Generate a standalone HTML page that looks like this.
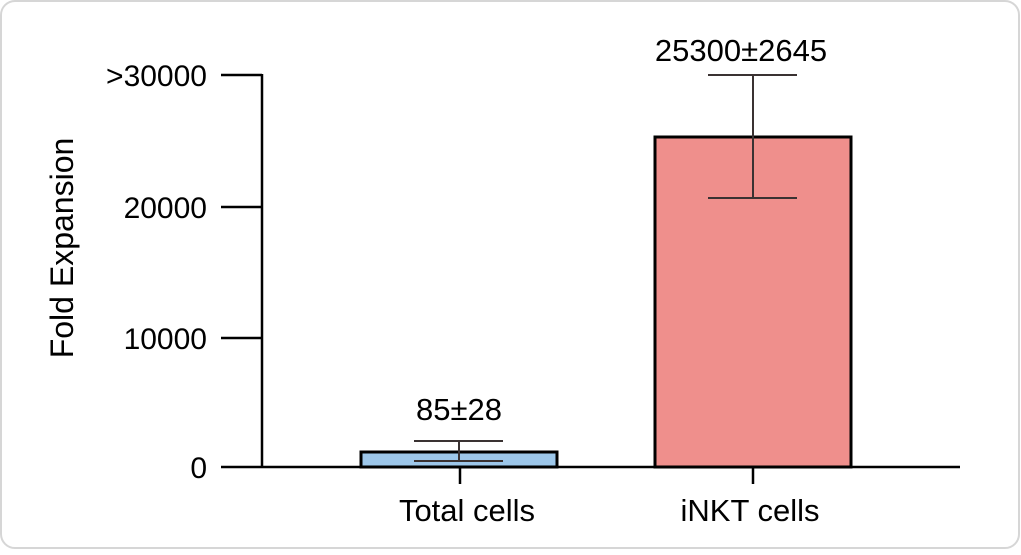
<!DOCTYPE html>
<html><head><style>body{margin:0;background:#fff}</style></head><body>
<svg width="1021" height="550" xmlns="http://www.w3.org/2000/svg" font-family="Liberation Sans, sans-serif">
<rect x="1" y="1" width="1018" height="547" rx="14" fill="#fff" stroke="#d6d6d6" stroke-width="2"/>
<g stroke="#000" stroke-width="2.5">
<line x1="262" y1="74" x2="262" y2="468"/>
<line x1="221" y1="75" x2="262" y2="75"/>
<line x1="221" y1="207" x2="262" y2="207"/>
<line x1="221" y1="338" x2="262" y2="338"/>
<line x1="221" y1="467" x2="960" y2="467"/>
<line x1="460" y1="467" x2="460" y2="484"/>
<line x1="753" y1="467" x2="753" y2="484"/>
</g>
<rect x="361" y="452" width="196" height="15" fill="#9dc7ea" stroke="#000" stroke-width="3"/>
<rect x="655" y="137" width="196" height="330" fill="#ef8f8c" stroke="#000" stroke-width="3"/>
<g stroke="#3a3232" stroke-width="2">
<line x1="459" y1="441" x2="459" y2="461"/><line x1="414" y1="441" x2="503" y2="441"/><line x1="414" y1="461" x2="503" y2="461"/>
<line x1="753" y1="75" x2="753" y2="198"/><line x1="708" y1="75" x2="797" y2="75"/><line x1="708" y1="198" x2="797" y2="198"/>
</g>
<g font-size="30" fill="#000">
<text x="207" y="86" text-anchor="end">&gt;30000</text>
<text x="207" y="218" text-anchor="end">20000</text>
<text x="207" y="349" text-anchor="end">10000</text>
<text x="207" y="478" text-anchor="end">0</text>
<text x="459" y="420" text-anchor="middle" font-size="31">85±28</text>
<text x="741" y="61" text-anchor="middle" font-size="31">25300±2645</text>
<text x="467" y="521" text-anchor="middle" font-size="31">Total cells</text>
<text x="750" y="521" text-anchor="middle" font-size="31">iNKT cells</text>
<text transform="translate(73,248) rotate(-90)" text-anchor="middle" font-size="32">Fold Expansion</text>
</g>
</svg>
</body></html>
